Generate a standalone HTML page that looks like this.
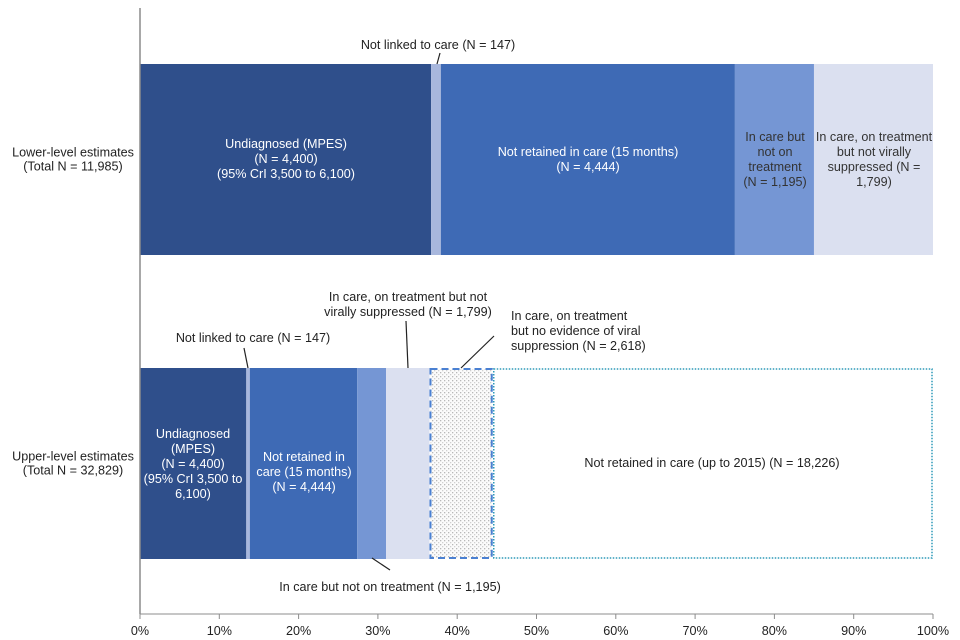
<!DOCTYPE html>
<html><head><meta charset="utf-8"><style>
body{margin:0;background:#fff;}
svg{display:block;font-family:"Liberation Sans",Arial,sans-serif;}
</style></head><body>
<svg id="chart" width="960" height="640" viewBox="0 0 960 640">
<defs>
<pattern id="dots" width="4" height="4" patternUnits="userSpaceOnUse"><rect width="4" height="4" fill="#fbfbfb"/><rect x="0" y="0" width="1.3" height="1.3" fill="#b8b8b8"/><rect x="2" y="2" width="1.3" height="1.3" fill="#d0d0d0"/></pattern>
</defs>
<g id="bars"></g>
<g id="axis"></g>
<g id="ann"></g>
</svg>
<script>
const categories = ["Lower-level estimates", "Upper-level estimates"];
const totals = [11985, 32829];
const segLabels = ["Undiagnosed", "Not linked", "Not retained (15 months)", "In care not on treatment", "Not virally suppressed", "No evidence of viral suppression", "Not retained (up to 2015)"];
const lowerValues = [4400, 147, 4444, 1195, 1799];
const upperValues = [4400, 147, 4444, 1195, 1799, 2618, 18226];
const tickLabels = ["0%","10%","20%","30%","40%","50%","60%","70%","80%","90%","100%"];

const NS = "http://www.w3.org/2000/svg";
const X0 = 140, X1 = 933;
const FS = 12.6;
const xs = p => X0 + (X1 - X0) * p;
const bandTop = [64, 368], bandH = 191;
const fills = ["#2F4F8B","#A8B7DD","#3E6AB5","#7596D4","#DBE0F0","url(#dots)","#ffffff"];
function mk(tag, attrs, parent, text){const e=document.createElementNS(NS,tag);for(const k in attrs)e.setAttribute(k,attrs[k]);if(text!==undefined)e.textContent=text;parent.appendChild(e);return e;}
const bars = document.getElementById('bars');
[lowerValues, upperValues].forEach((vals, r) => {
  const tot = vals.reduce((a,b)=>a+b,0);
  let cum = 0;
  vals.forEach((v,i) => {
    const x = xs(cum/tot), w = xs((cum+v)/tot) - x;
    cum += v;
    const rect = mk('rect',{x:x,y:bandTop[r],width:w,height:bandH,fill:fills[i]},bars);
    
    
    if(i===5){rect.setAttribute('x',x+1);rect.setAttribute('y',bandTop[r]+1);rect.setAttribute('width',w-2);rect.setAttribute('height',bandH-2);rect.setAttribute('stroke','#4A80D2');rect.setAttribute('stroke-width','2');rect.setAttribute('stroke-dasharray','7,4');}
    if(i===6){rect.setAttribute('x',x+1);rect.setAttribute('y',bandTop[r]+1);rect.setAttribute('width',w-2);rect.setAttribute('height',bandH-2);rect.setAttribute('stroke','#2E9AB8');rect.setAttribute('stroke-width','1.5');rect.setAttribute('stroke-dasharray','1.5,1.5');}
  });
});
const ax = document.getElementById('axis');
mk('line',{x1:X0,y1:8,x2:X0,y2:614,stroke:'#8c8c8c','stroke-width':1.5},ax);
mk('line',{x1:X0,y1:614,x2:X1,y2:614,stroke:'#8c8c8c','stroke-width':1},ax);
tickLabels.forEach((t,i)=>{
  const x = xs(i/10);
  const tk = mk('line',{x1:x,y1:614,x2:x,y2:619,stroke:'#8c8c8c'},ax);
  
  
  const tl = mk('text',{x:x,y:635,'text-anchor':'middle','font-size':FS,fill:'#222'},ax,t);
  
  
});
categories.forEach((c,r)=>{
  const cy = bandTop[r]+bandH/2;
  const t = mk('text',{x:73,y:cy-3,'text-anchor':'middle','font-size':FS,fill:'#222'},ax);
  
  
  mk('tspan',{x:73},t,c);
  mk('tspan',{x:73,dy:14},t,'(Total N = '+totals[r].toLocaleString('en-US')+')');
});
const ann = document.getElementById('ann');
function lines(arr,x,y,color,anchor,size){const t=mk('text',{x:x,y:y,'text-anchor':anchor||'middle','font-size':size||FS,fill:color},ann);arr.forEach((s,i)=>mk('tspan',{x:x,dy:i?15:0},t,s));return t;}
function ln(x1,y1,x2,y2){mk('line',{x1,y1,x2,y2,stroke:'#222','stroke-width':1.2},ann);}
lines(["Undiagnosed (MPES)","(N = 4,400)","(95% CrI 3,500 to 6,100)"],286,148,'#fff');
lines(["Not retained in care (15 months)","(N = 4,444)"],588,156,'#fff');
lines(["In care but","not on","treatment","(N = 1,195)"],775,141,'#333');
lines(["In care, on treatment","but not virally","suppressed (N =","1,799)"],874,141,'#333');
lines(["Not linked to care (N = 147)"],438,49,'#222');ln(437,64,440,53);
lines(["Undiagnosed","(MPES)","(N = 4,400)","(95% CrI 3,500 to","6,100)"],193,438,'#fff');
lines(["Not retained in","care (15 months)","(N = 4,444)"],304,461,'#fff');
lines(["Not retained in care (up to 2015) (N = 18,226)"],712,467,'#222');
lines(["Not linked to care (N = 147)"],253,342,'#222');ln(244,348,248,368);
lines(["In care, on treatment but not","virally suppressed (N = 1,799)"],408,301,'#222');ln(406,321,408,368);
lines(["In care, on treatment","but no evidence of viral","suppression (N = 2,618)"],511,320,'#222','start');ln(494,336,461,368);
lines(["In care but not on treatment (N = 1,195)"],390,591,'#222');ln(372,558,390,570);
</script>
</body></html>
